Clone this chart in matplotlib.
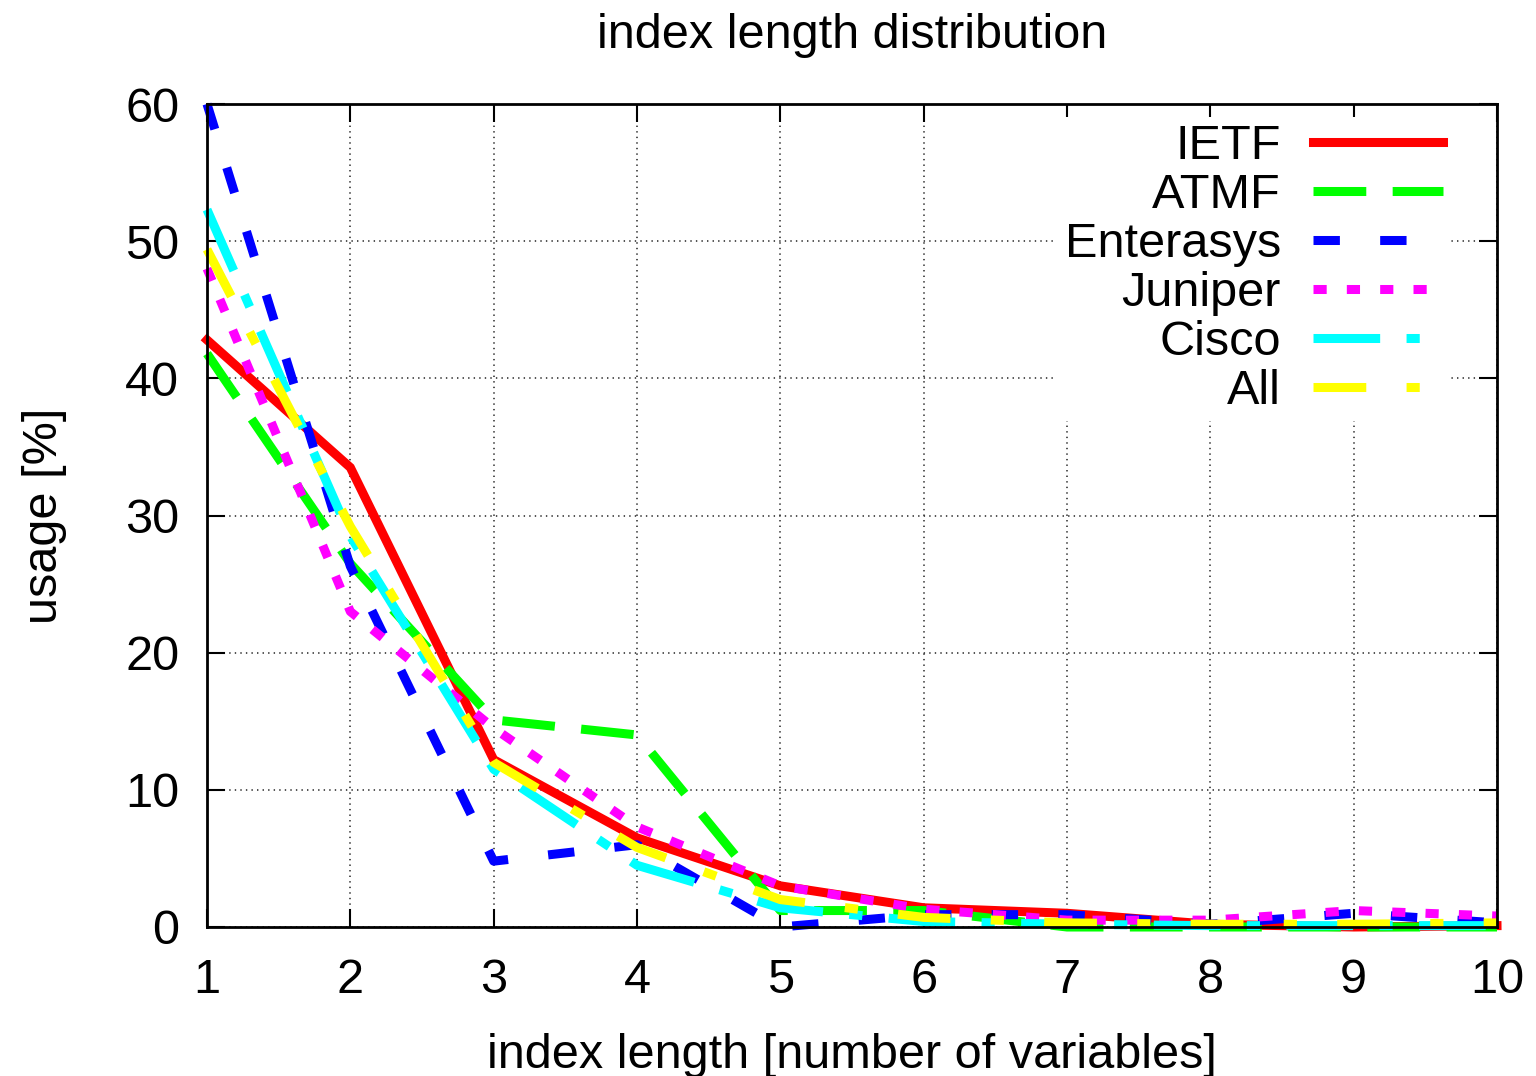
import numpy as np
import matplotlib
matplotlib.use('Agg')
import matplotlib.pyplot as plt

plt.rcParams['font.family'] = ['Liberation Sans', 'DejaVu Sans']
plt.rcParams['lines.scale_dashes'] = False

# index length (number of variables)
x = [1, 2, 3, 4, 5, 6, 7, 8, 9, 10]

# usage in percent
ietf      = [42.8, 33.5, 12.2, 6.5, 3.0, 1.4, 1.0, 0.2, 0.0, 0.1]
atmf      = [41.8, 26.5, 15.1, 14.0, 1.2, 1.2, 0.0, 0.0, 0.0, 0.0]
enterasys = [60.0, 26.3, 4.8, 6.0, 0.0, 0.9, 0.9, 0.2, 1.0, 0.3]
juniper   = [48.0, 23.0, 14.5, 7.3, 3.0, 1.3, 0.5, 0.5, 1.2, 0.8]
cisco     = [52.3, 28.5, 11.5, 4.5, 1.4, 0.4, 0.2, 0.1, 0.1, 0.1]
all_      = [49.4, 29.2, 12.0, 5.8, 2.0, 0.7, 0.3, 0.2, 0.2, 0.3]

names = ['IETF', 'ATMF', 'Enterasys', 'Juniper', 'Cisco', 'All']
colors = ['#ff0000', '#00ff00', '#0000ff', '#ff00ff', '#00ffff', '#ffff00']
# gnuplot style dash patterns, in points
dashes = [None, (38, 19), (19, 29), (9.5, 14.5), (48, 19, 9.5, 19), (38, 29, 9.5, 29)]

fs = 35

fig = plt.figure(figsize=(15.36, 10.76), dpi=100)
ax = fig.add_axes([207/1536, 1-927/1076, (1497-207)/1536, (927-104)/1076])

for yv, nm, c, d in zip([ietf, atmf, enterasys, juniper, cisco, all_], names, colors, dashes):
    ln, = ax.plot(x, yv, color=c, lw=6.5, label=nm, clip_on=False,
                  solid_joinstyle='miter', dash_capstyle='butt')
    if d is not None:
        ln.set_dashes(d)

ax.set_xlim(1, 10)
ax.set_ylim(0, 60)
ax.set_xticks(x)
ax.set_yticks(range(0, 61, 10))
ax.grid(True, color='0.2', linestyle=(0, (1, 3)), lw=1.2)
ax.tick_params(direction='in', length=13, width=1.5, top=True, right=True,
               labelsize=fs)
ax.tick_params(axis='x', pad=22)
ax.tick_params(axis='y', pad=20)
for s in ax.spines.values():
    s.set_linewidth(2)
    s.set_zorder(6)

ax.set_title('index length distribution', fontsize=fs, pad=40)
ax.set_xlabel('index length [number of variables]', fontsize=fs, labelpad=22)
ax.set_ylabel('usage [%]', fontsize=fs, labelpad=42)

# key box sits just under the top ticks, like gnuplot's key
leg = ax.legend(loc='upper right', bbox_to_anchor=(1 - 47/1290, 1 - 13/823),
                markerfirst=False, fontsize=fs,
                frameon=True, fancybox=False, edgecolor='none', facecolor='white',
                framealpha=1, handlelength=2.67, handletextpad=0.66,
                labelspacing=0.08, borderpad=0.15, borderaxespad=0)

fig.savefig('out.png', dpi=100)
